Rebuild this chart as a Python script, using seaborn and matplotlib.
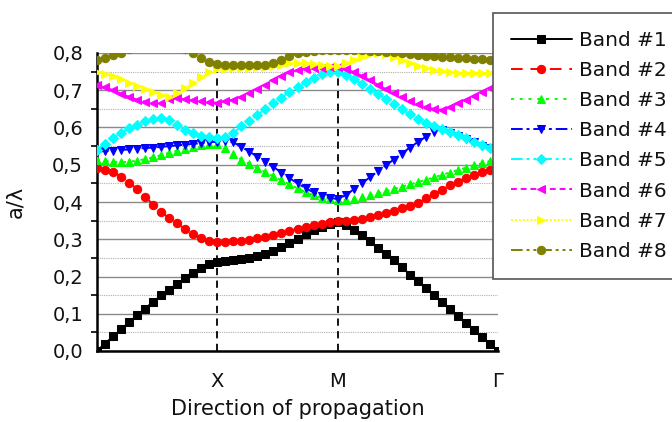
import numpy as np
import pandas as pd
import matplotlib
matplotlib.use("Agg")
import matplotlib.pyplot as plt
import seaborn as sns
from matplotlib.ticker import FuncFormatter, MultipleLocator

# k-path coordinate (Γ=0, X=3, M=6, Γ=10), one point every 0.2
k = np.round(np.arange(0, 10.0001, 0.2), 1)

band1 = [0.000, 0.020, 0.039, 0.058, 0.077, 0.096, 0.114, 0.132, 0.149, 0.165, 0.180, 0.195, 0.209, 0.222, 0.233, 0.240,
         0.241, 0.243, 0.246, 0.250, 0.254, 0.260, 0.268, 0.278, 0.290, 0.302, 0.314, 0.325, 0.334, 0.340, 0.345,
         0.338, 0.326, 0.311, 0.294, 0.277, 0.260, 0.243, 0.226, 0.205, 0.187, 0.169, 0.150, 0.131, 0.112, 0.094,
         0.075, 0.056, 0.037, 0.019, 0.000]
band2 = [0.490, 0.487, 0.480, 0.468, 0.452, 0.435, 0.414, 0.393, 0.373, 0.357, 0.343, 0.327, 0.314, 0.303, 0.295, 0.292,
         0.293, 0.294, 0.296, 0.299, 0.303, 0.307, 0.312, 0.317, 0.322, 0.328, 0.333, 0.338, 0.342, 0.345, 0.348,
         0.350, 0.352, 0.355, 0.360, 0.365, 0.371, 0.377, 0.384, 0.390, 0.397, 0.410, 0.421, 0.433, 0.445, 0.455,
         0.464, 0.472, 0.480, 0.487, 0.490]
band3 = [0.513, 0.510, 0.508, 0.507, 0.508, 0.511, 0.515, 0.520, 0.526, 0.532, 0.538, 0.543, 0.548, 0.552, 0.555, 0.556,
         0.545, 0.528, 0.514, 0.502, 0.491, 0.480, 0.469, 0.458, 0.447, 0.437, 0.427, 0.418, 0.412, 0.408, 0.406,
         0.406, 0.409, 0.413, 0.418, 0.423, 0.429, 0.435, 0.441, 0.447, 0.453, 0.460, 0.466, 0.473, 0.479, 0.486,
         0.492, 0.498, 0.504, 0.510, 0.515]
band4 = [0.535, 0.537, 0.538, 0.540, 0.541, 0.543, 0.545, 0.546, 0.548, 0.550, 0.552, 0.554, 0.556, 0.558, 0.560, 0.562,
         0.565, 0.560, 0.548, 0.535, 0.522, 0.508, 0.494, 0.479, 0.464, 0.450, 0.437, 0.426, 0.417, 0.411, 0.408,
         0.418, 0.434, 0.450, 0.466, 0.482, 0.498, 0.514, 0.530, 0.546, 0.561, 0.575, 0.587, 0.594, 0.586, 0.578,
         0.569, 0.560, 0.551, 0.544, 0.538]
band5 = [0.540, 0.556, 0.571, 0.585, 0.598, 0.608, 0.617, 0.623, 0.625, 0.619, 0.606, 0.594, 0.585, 0.578, 0.574, 0.573,
         0.574, 0.585, 0.603, 0.618, 0.634, 0.650, 0.666, 0.680, 0.695, 0.709, 0.722, 0.733, 0.743, 0.748, 0.750,
         0.742, 0.730, 0.717, 0.703, 0.690, 0.676, 0.663, 0.649, 0.636, 0.624, 0.613, 0.603, 0.596, 0.588, 0.580,
         0.571, 0.562, 0.553, 0.546, 0.540]
band6 = [0.714, 0.708, 0.700, 0.691, 0.682, 0.675, 0.669, 0.665, 0.667, 0.676, 0.678, 0.676, 0.673, 0.670, 0.668, 0.667,
         0.670, 0.675, 0.683, 0.692, 0.703, 0.715, 0.727, 0.739, 0.748, 0.754, 0.758, 0.760, 0.761, 0.762, 0.762,
         0.757, 0.749, 0.739, 0.727, 0.715, 0.703, 0.692, 0.682, 0.672, 0.663, 0.656, 0.650, 0.647, 0.655, 0.665,
         0.675, 0.685, 0.695, 0.705, 0.714]
band7 = [0.749, 0.744, 0.737, 0.729, 0.720, 0.711, 0.703, 0.695, 0.688, 0.683, 0.692, 0.705, 0.720, 0.735, 0.748, 0.757,
         0.758, 0.759, 0.760, 0.761, 0.762, 0.763, 0.766, 0.769, 0.772, 0.773, 0.772, 0.770, 0.767, 0.765, 0.765,
         0.772, 0.781, 0.790, 0.797, 0.800, 0.797, 0.789, 0.780, 0.772, 0.765, 0.760, 0.755, 0.751, 0.749, 0.747,
         0.746, 0.745, 0.745, 0.745, 0.745]
band8 = [0.782, 0.787, 0.794, 0.801, 0.810, 0.818, 0.825, 0.829, 0.830, 0.828, 0.822, 0.812, 0.799, 0.787, 0.776, 0.770,
         0.768, 0.767, 0.767, 0.767, 0.768, 0.769, 0.773, 0.782, 0.793, 0.800, 0.804, 0.806, 0.807, 0.808, 0.808,
         0.808, 0.808, 0.807, 0.806, 0.805, 0.804, 0.802, 0.800, 0.797, 0.795, 0.793, 0.791, 0.790, 0.788, 0.787,
         0.786, 0.785, 0.784, 0.782, 0.782]

band_names = ["Band #1", "Band #2", "Band #3", "Band #4", "Band #5", "Band #6", "Band #7", "Band #8"]
band_values = [band1, band2, band3, band4, band5, band6, band7, band8]
band_colors = ["#000000", "#ff0000", "#00ff00", "#0000ff", "#00ffff", "#ff00ff", "#ffff00", "#808000"]
band_markers = ["s", "o", "^", "v", "D", "<", ">", "o"]
band_styles = ["-", (0, (6, 4)), (0, (1.5, 3)), (0, (6, 2, 1.5, 2)), (0, (6, 2, 1.5, 2, 1.5, 2)),
               (0, (3, 2)), (0, (1, 1)), (0, (6, 2, 1.5, 2, 1.5, 2))]
band_msize = [5.2, 6.0, 6.2, 6.2, 5.4, 6.2, 6.2, 6.0]

xtick_pos = list(range(0, 11))
xtick_labels = ["", "", "", "X", "", "", "M", "", "", "", "Γ"]
sym_lines = [3, 6]

sns.set_theme(style="white")
plt.rcParams["font.family"] = ["DejaVu Sans"]

fig = plt.figure(figsize=(6.72, 4.22), dpi=100)
ax = fig.add_axes([97 / 672, 1 - 351 / 422, 401 / 672, 298 / 422])

ax.set_axisbelow(True)
ax.yaxis.set_major_locator(MultipleLocator(0.1))
ax.yaxis.set_minor_locator(MultipleLocator(0.05))
ax.grid(True, which="major", axis="y", color="#8a8a8a", linewidth=1.0, linestyle="-")
ax.grid(True, which="minor", axis="y", color="#b0b0b0", linewidth=0.8, linestyle=(0, (1, 1)))
ax.grid(False, axis="x")

for xv in sym_lines:
    ax.axvline(xv, ymin=0, ymax=0.77 / 0.8, color="black", linewidth=1.3, linestyle=(0, (4, 3)), zorder=2)

for name, vals, col, mk, ls, ms in zip(band_names, band_values, band_colors, band_markers, band_styles, band_msize):
    df = pd.DataFrame({"k": k, "f": vals})
    sns.lineplot(data=df, x="k", y="f", ax=ax, color=col, marker=mk, linestyle=ls,
                 markersize=ms, markeredgecolor=col, linewidth=1.4, label=name,
                 sort=False, estimator=None, zorder=3)

ax.set_xlim(0, 10)
ax.set_ylim(0, 0.8)
ax.set_xticks(xtick_pos)
ax.set_xticklabels(xtick_labels)
ax.yaxis.set_major_formatter(FuncFormatter(lambda v, p: f"{v:.1f}".replace(".", ",")))

for s in ["top", "right"]:
    ax.spines[s].set_visible(False)
for s in ["left", "bottom"]:
    ax.spines[s].set_color("black")
    ax.spines[s].set_linewidth(1.8)

ax.tick_params(axis="both", which="major", direction="out", length=5, width=1.5,
               color="black", labelsize=14, labelcolor="#111111")
ax.tick_params(axis="y", which="minor", direction="out", length=4, width=1.2, color="black", left=True)
ax.tick_params(axis="x", which="major", pad=10)
ax.tick_params(axis="y", which="major", pad=5)

ax.set_xlabel("Direction of propagation", fontsize=15, color="#111111", labelpad=6)
ax.set_ylabel("a/λ", fontsize=15, color="#111111")
ax.yaxis.set_label_coords(-0.18, 0.5)

leg = ax.legend(loc="upper left", bbox_to_anchor=(493 / 672, 1 - 13 / 422),
                bbox_transform=fig.transFigure, frameon=True, fancybox=False,
                fontsize=14.5, handlelength=3.0, handletextpad=0.35,
                labelspacing=0.55, borderpad=0.9, borderaxespad=0)
leg.get_frame().set_edgecolor("#555555")
leg.get_frame().set_linewidth(1.2)
leg.get_frame().set_alpha(1)
for t in leg.get_texts():
    t.set_color("#111111")

fig.savefig("out.png", dpi=100)
